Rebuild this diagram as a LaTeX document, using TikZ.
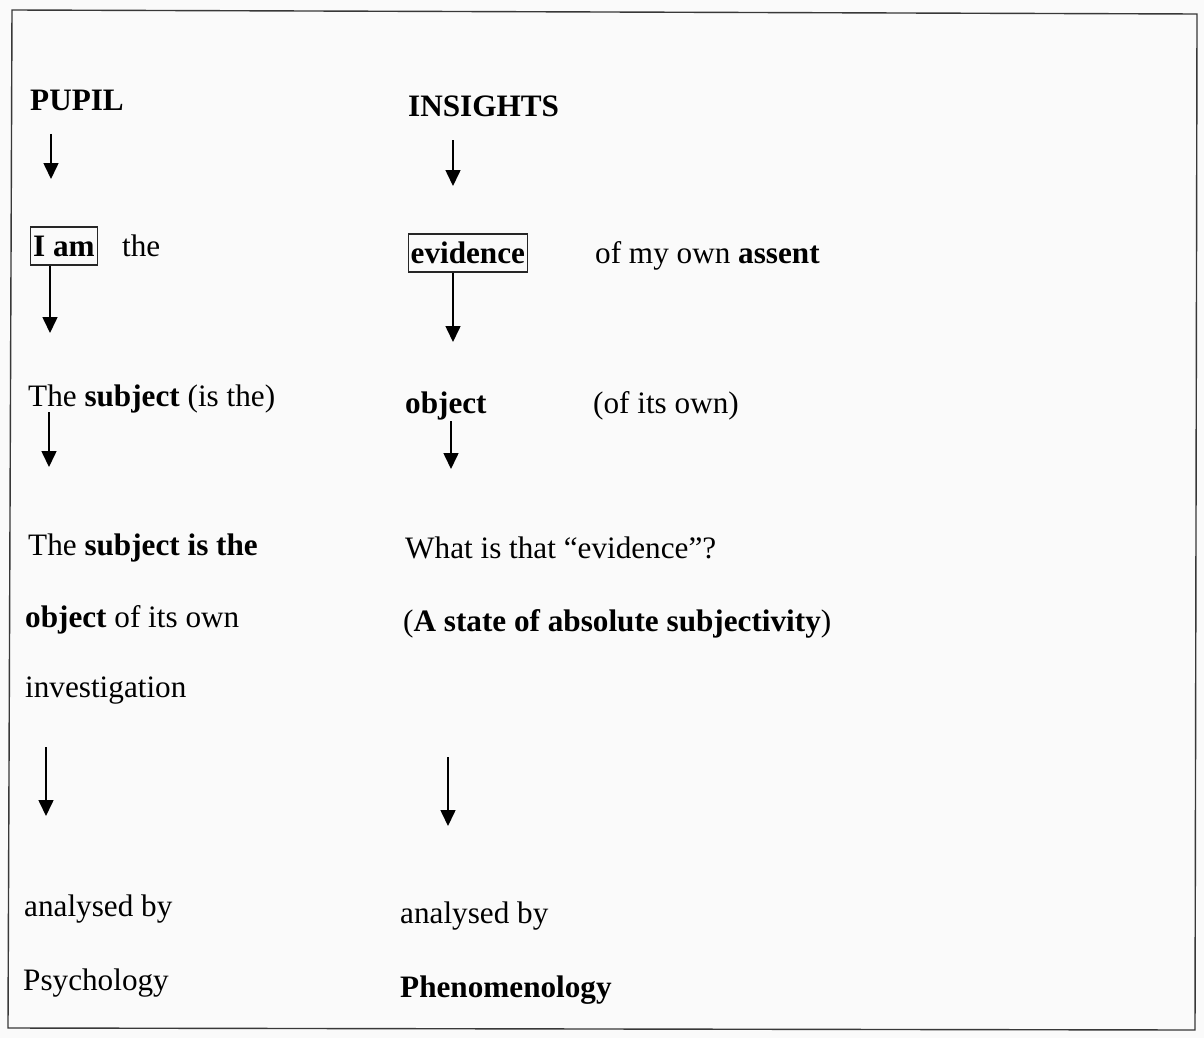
\documentclass[tikz,border=0pt]{standalone}
\usepackage{fontspec}
\setmainfont{Liberation Serif}
\usetikzlibrary{arrows.meta}
\begin{document}
\begin{tikzpicture}[x=1pt,y=-1pt,
  txt/.style={anchor=base west,inner sep=0pt,font=\fontsize{31.2}{37}\selectfont},
  boxed/.style={txt,draw=black!85,line width=1.3pt,inner xsep=2.5pt,inner ysep=0pt,text height=29pt,text depth=9pt},
  flow/.style={line width=1.6pt,-{Triangle[length=16pt,width=15pt]}}]
\useasboundingbox (0,0) rectangle (1204,1038);
\fill[white!98!black] (0,0) rectangle (1204,1038);
\draw[line width=1.4pt,black!78] (12,10) -- (1197,14) -- (1195,1030) -- (8,1028) -- cycle;
% left column
\node[txt] (pupil) at (30,111) {\textbf{PUPIL}};
\node[boxed] (iam) at (30,256) {\textbf{I am}};
\node[txt] (the) at (122,256) {the};
\node[txt] (subj1) at (28,406) {The \textbf{subject} (is the)};
\node[txt] (subj2) at (28,555) {The \textbf{subject is the}};
\node[txt] (obj2) at (25,627) {\textbf{object} of its own};
\node[txt] (invest) at (25,697) {investigation};
\node[txt] (anl) at (24,916) {analysed by};
\node[txt] (psy) at (23,990) {Psychology};
% right column
\node[txt] (ins) at (408,117) {\textbf{INSIGHTS}};
\node[boxed] (evid) at (407.5,263) {\textbf{evidence}};
\node[txt] (assent) at (595,263) {of my own \textbf{assent}};
\node[txt] (obj1) at (405,413) {\textbf{object}};
\node[txt] (own) at (593,413) {(of its own)};
\node[txt] (what) at (405,558) {What is that “evidence”?};
\node[txt] (state) at (403,631) {(\textbf{A state of absolute subjectivity})};
\node[txt] (anr) at (400,923) {analysed by};
\node[txt] (phen) at (400,997) {\textbf{Phenomenology}};
% arrow end points
\coordinate (a1s) at (51,134); \coordinate (a1e) at (51,179);
\coordinate (b1s) at (453,140); \coordinate (b1e) at (453,186);
\coordinate (a2e) at (50,333);
\coordinate (b2e) at (453,342);
\coordinate (a3s) at (49,412); \coordinate (a3e) at (49,467);
\coordinate (b3s) at (451,421); \coordinate (b3e) at (451,469);
\coordinate (a4s) at (46,747); \coordinate (a4e) at (46,816);
\coordinate (b4s) at (448,757); \coordinate (b4e) at (448,826);
\draw[flow] (a1s) -- (a1e);
\draw[flow] (b1s) -- (b1e);
\draw[flow] (iam.south -| a2e) -- (a2e);
\draw[flow] (evid.south -| b2e) -- (b2e);
\draw[flow] (a3s) -- (a3e);
\draw[flow] (b3s) -- (b3e);
\draw[flow] (a4s) -- (a4e);
\draw[flow] (b4s) -- (b4e);
\end{tikzpicture}
\end{document}
